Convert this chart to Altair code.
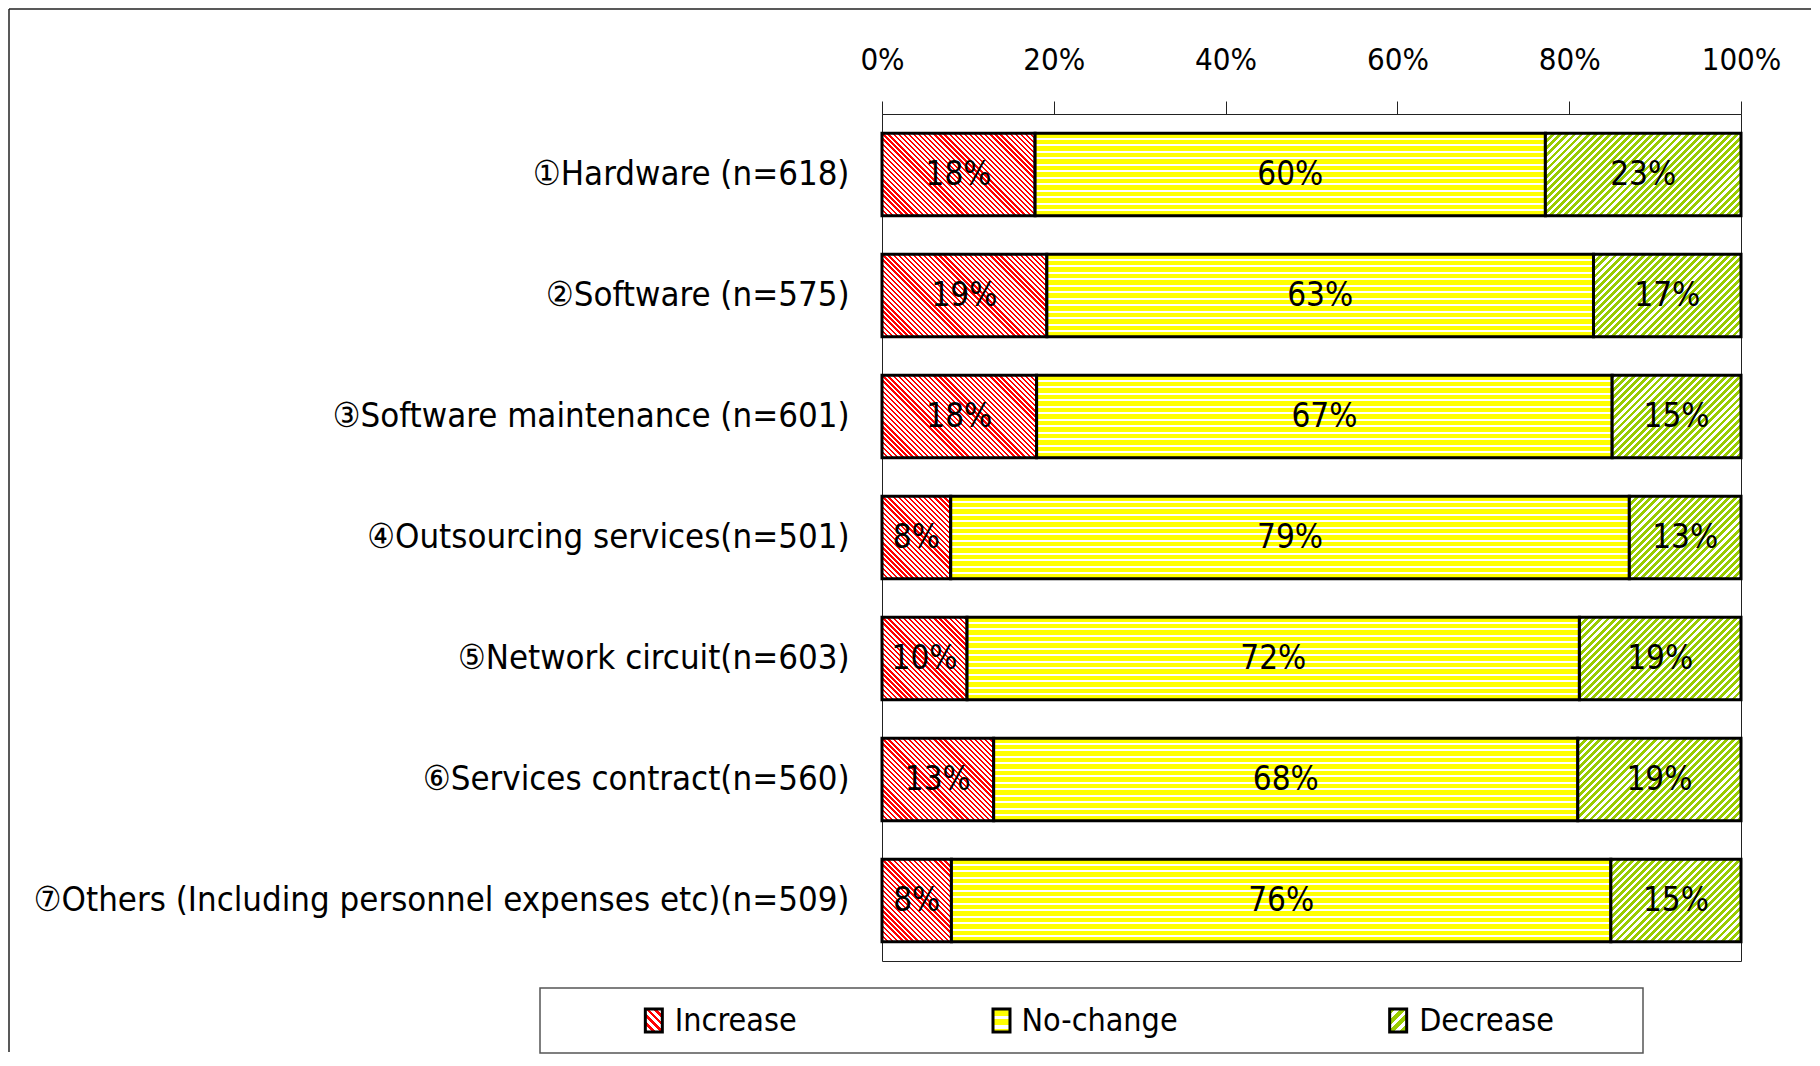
import math
import altair as alt

# ---------------- data ----------------
items = [
    "①Hardware (n=618)",
    "②Software (n=575)",
    "③Software maintenance (n=601)",
    "④Outsourcing services(n=501)",
    "⑤Network circuit(n=603)",
    "⑥Services contract(n=560)",
    "⑦Others (Including personnel expenses etc)(n=509)",
]
categories = ["Increase", "No-change", "Decrease"]
increase = [18, 19, 18, 8, 10, 13, 8]
nochange = [60, 63, 67, 79, 72, 68, 76]
decrease = [23, 17, 15, 13, 19, 19, 15]
tick_values = [0, 0.2, 0.4, 0.6, 0.8, 1.0]

# ---------------- style ----------------
FONT = "'DejaVu Sans Condensed', 'DejaVu Sans', sans-serif"
RED, YELLOW, GREEN, WHITE = "#FF0000", "#FFFF00", "#99CC00", "#FFFFFF"
PLOT_W, PLOT_H = 859, 847
PAD_IN, PAD_OUT = 0.32, 0.16
STEP = PLOT_H / (len(items) - PAD_IN + 2 * PAD_OUT)
BAR_H = STEP * (1 - PAD_IN)

# legend box / frame placement (pixels relative to the plot origin)
LEG_X0, LEG_X1, LEG_Y0, LEG_Y1 = -342, 761, 874, 939
FR_X0, FR_X1, FR_Y0, FR_Y1 = -873, 929, -105, 938
SYM_DX = "datum.category === 'Increase' ? -70 : datum.category === 'No-change' ? -90 : -61"
TXT_DX = "datum.category === 'Increase' ? -49 : datum.category === 'No-change' ? -70 : -40"


def stripe_stops(c1, c2, n, frac):
    stops = []
    k = 0
    while True:
        a, b, c = k / n, (k + frac) / n, (k + 1) / n
        for off, col in ((a, c1), (b, c1), (b, c2), (c, c2)):
            stops.append({"offset": round(min(off, 1.0), 5), "color": col})
        if c >= 1:
            break
        k += 1
    return stops


def diag(w, h, color, period, frac, forward):
    r = h / w
    dx = (1 + r) / (1 + r * r)
    n = max(1.0, (w + h) / math.sqrt(2) / period)
    stops = stripe_stops(color, WHITE, n, frac)
    if forward:   # "/" stripes
        return {"gradient": "linear", "x1": 0, "y1": 0, "x2": dx, "y2": dx * r, "stops": stops}
    # "\" stripes
    return {"gradient": "linear", "x1": 0, "y1": 1, "x2": dx, "y2": 1 - dx * r, "stops": stops}


def horiz(h, color, period, frac):
    n = max(1.0, h / period)
    return {"gradient": "linear", "x1": 0.5, "y1": 0, "x2": 0.5, "y2": 1,
            "stops": stripe_stops(color, WHITE, n, frac)}


def pattern(cat, w, h, scale=1.0):
    if cat == "Increase":
        return diag(w, h, RED, 3.6 * scale, 0.45, False)
    if cat == "No-change":
        return horiz(h, YELLOW, 6.5 * scale, 0.68)
    return diag(w, h, GREEN, 5.0 * scale, 0.55, True)


rows = []
for i, item in enumerate(items):
    vals = [increase[i], nochange[i], decrease[i]]
    tot = float(sum(vals))
    cum = 0
    for cat, v in zip(categories, vals):
        start = cum / tot
        cum += v
        end = cum / tot
        rows.append({
            "item": item, "category": cat, "value": v,
            "start": start, "end": end,
            "grad": pattern(cat, max(1.0, (end - start) * PLOT_W), BAR_H),
        })

legend_rows = [{"category": c, "grad": pattern(c, 17, 23, 1.5)} for c in categories]

# ---------------- main bars ----------------
base = alt.Chart(alt.Data(values=rows))

y_enc = alt.Y(
    "item:N", sort=items, title=None,
    scale=alt.Scale(paddingInner=PAD_IN, paddingOuter=PAD_OUT),
    axis=alt.Axis(orient="left", domain=False, ticks=False, labelFont=FONT,
                  labelFontSize=34.5, labelColor="black", labelPadding=33,
                  labelLimit=1500),
)

bars = base.mark_bar(stroke="black", strokeWidth=3).encode(
    x=alt.X("start:Q", title=None,
            scale=alt.Scale(domain=[0, 1], nice=False),
            axis=alt.Axis(orient="top", values=tick_values, format=".0%",
                          grid=False, tickSize=13, tickColor="#222",
                          domainColor="#222", labelFont=FONT, labelFontSize=31,
                          labelColor="black", labelPadding=32,
                          labelBaseline="alphabetic", labelFlush=False)),
    x2="end:Q",
    y=y_enc,
    fill=alt.Fill("grad:N", scale=None),
)

texts = base.transform_calculate(
    mid="(datum.start + datum.end) / 2",
    label="datum.value + '%'",
).mark_text(font=FONT, fontSize=33, color="black").encode(
    x=alt.X("mid:Q", title=None, scale=alt.Scale(domain=[0, 1], nice=False), axis=None),
    y=alt.Y("item:N", sort=items, title=None),
    text="label:N",
)

# ---------------- legend (drawn below the plot) ----------------
leg = alt.Chart(alt.Data(values=legend_rows))
x_leg = alt.X("category:N", sort=categories, axis=None,
              scale=alt.Scale(domain=categories, range=[LEG_X0, LEG_X1]))
y_leg = alt.value((LEG_Y0 + LEG_Y1) / 2)
RECT = "M-0.739,-1L0.739,-1L0.739,1L-0.739,1Z"
symbols = leg.mark_point(shape=RECT, size=529, filled=True, stroke="black",
                         strokeWidth=3, opacity=1,
                         xOffset={"expr": SYM_DX}).encode(
    x=x_leg, y=y_leg, fill=alt.Fill("grad:N", scale=None))
ltext = leg.mark_text(align="left", baseline="middle", dx={"expr": TXT_DX},
                      font=FONT, fontSize=32, color="black").encode(
    x=x_leg, y=y_leg, text="category:N")

one = alt.Chart(alt.Data(values=[{"k": 0}]))
legend_box = one.mark_rect(fillOpacity=0, stroke="#555", strokeWidth=1.5).encode(
    x=alt.value(LEG_X0), x2=alt.value(LEG_X1),
    y=alt.value(LEG_Y0), y2=alt.value(LEG_Y1))

# ---------------- outer frame (left and top edges) ----------------
frame_top = one.mark_rule(stroke="#222", strokeWidth=1.5).encode(
    x=alt.value(FR_X0), x2=alt.value(FR_X1), y=alt.value(FR_Y0))
frame_left = one.mark_rule(stroke="#222", strokeWidth=1.5).encode(
    x=alt.value(FR_X0), y=alt.value(FR_Y0), y2=alt.value(FR_Y1))

chart = alt.layer(
    bars, texts, legend_box, symbols, ltext, frame_top, frame_left
).resolve_scale(x="independent").properties(
    width=PLOT_W, height=PLOT_H,
    view=alt.ViewBackground(stroke="#222", strokeWidth=1),
    padding={"left": 0, "top": 0, "right": 0, "bottom": 0},
    background="white",
)

chart.save("out.html", embed_options={"renderer": "svg", "actions": False})
